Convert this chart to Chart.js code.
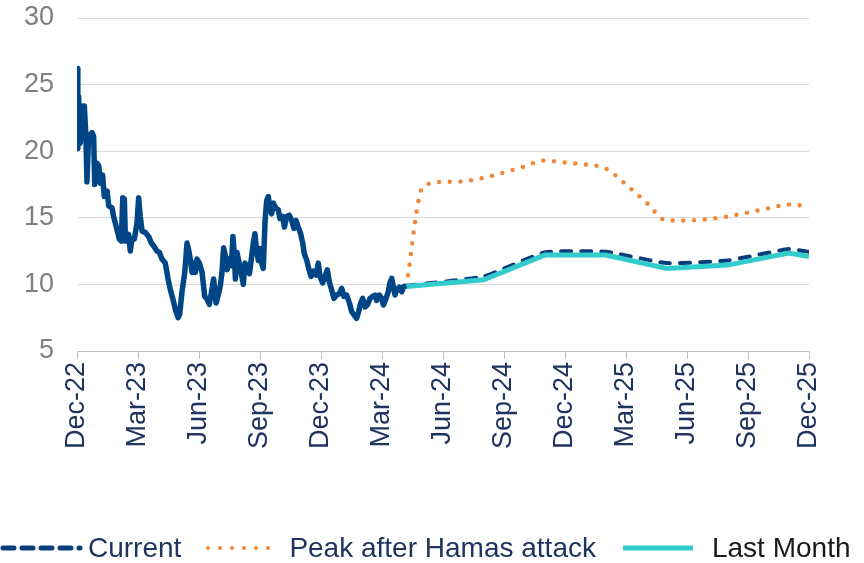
<!DOCTYPE html>
<html lang="en">

<head>
  <meta charset="UTF-8">
  <title>Volatility outlook</title>
  <script src="https://cdn.jsdelivr.net/npm/chart.js"></script>
  <style>
    body { margin: 0; background: #fff; font-family: Arial, "Liberation Sans", sans-serif; }
    #wrap { position: relative; width: 864px; height: 563px; }
    #legend {
      position: absolute; left: 0; top: 530px; height: 36px; line-height: 36px;
      display: flex; align-items: center; font-size: 28px; white-space: nowrap;
    }
    #legend svg { display: block; }
  </style>
</head>

<body>
  <div id="wrap">
    <canvas id="chart"></canvas>
    <div id="legend">
      <svg width="84" height="12"><line x1="3" y1="6" x2="80" y2="6" stroke="#0B3D7A" stroke-width="5" stroke-dasharray="11 8" stroke-linecap="round"/></svg>
      <span style="margin-left:4px;color:#1F3560">Current</span>
      <svg width="72" height="12" style="margin-left:24px"><line x1="3" y1="6" x2="70" y2="6" stroke="#F0883A" stroke-width="4" stroke-dasharray="0 12" stroke-linecap="round"/></svg>
      <span style="margin-left:12px;color:#1F3560">Peak after Hamas attack</span>
      <svg width="72" height="12" style="margin-left:26px"><line x1="1" y1="6" x2="71" y2="6" stroke="#33CCCC" stroke-width="5"/></svg>
      <span style="margin-left:18px;color:#1a1a1a">Last Month</span>
    </div>
  </div>

  <script>
    // x positions are months after Dec-22
    var tickLabels = ['Dec-22', 'Mar-23', 'Jun-23', 'Sep-23', 'Dec-23', 'Mar-24', 'Jun-24',
      'Sep-24', 'Dec-24', 'Mar-25', 'Jun-25', 'Sep-25', 'Dec-25'];

    var histMonths = [0, 0.04, 0.08, 0.16, 0.3, 0.36, 0.44, 0.49, 0.57, 0.74, 0.82, 0.87, 0.98, 1.07, 1.15,
      1.26, 1.34, 1.48, 1.56, 1.72, 1.8, 1.97, 2.08, 2.18, 2.25, 2.33, 2.38, 2.54, 2.62, 2.7, 2.82, 2.95,
      3.03, 3.11, 3.2, 3.36, 3.52, 3.66, 3.77, 3.93, 4.05, 4.18, 4.34, 4.48, 4.59, 4.7, 4.84, 4.97, 5.05,
      5.16, 5.3, 5.41, 5.49, 5.57, 5.66, 5.74, 5.82, 5.9, 6.02, 6.15, 6.28, 6.39, 6.51, 6.61, 6.72, 6.84,
      6.93, 7.05, 7.13, 7.21, 7.3, 7.38, 7.46, 7.59, 7.67, 7.74, 7.79, 7.87, 8.0, 8.11, 8.18,
      8.26, 8.38, 8.48, 8.59, 8.67, 8.75, 8.84, 8.92, 9.0, 9.08, 9.16, 9.25, 9.33, 9.41, 9.49, 9.57, 9.66,
      9.79, 9.9, 9.98, 10.11, 10.2, 10.31, 10.44, 10.56, 10.67, 10.77, 10.88, 11.0, 11.1, 11.18, 11.3,
      11.41, 11.51, 11.62, 11.75, 11.87, 11.95, 12.08, 12.2, 12.31, 12.41, 12.52, 12.64, 12.77, 12.9,
      13.02, 13.13, 13.26, 13.4, 13.51, 13.63, 13.75, 13.85, 13.95, 14.05, 14.17, 14.28, 14.41, 14.54,
      14.66, 14.74, 14.87, 14.98, 15.07, 15.2, 15.31, 15.39, 15.48, 15.56, 15.64, 15.72, 15.85, 15.97,
      16.05, 16.18];
    var histValues = [26.2, 20.2, 24.1, 20.6, 23.4, 23.4, 21.1, 17.7, 21.1, 21.4, 21.1, 17.5, 19.1, 18.9, 17.6,
      18.2, 16.6, 17.0, 15.9, 15.75, 15.1, 14.1, 13.4, 13.25, 16.5, 16.4, 13.25, 13.75, 12.5, 13.4, 13.4, 14.6,
      16.5, 15.1, 14.0, 13.9, 13.6, 13.1, 12.9, 12.5, 12.4, 11.9, 11.6, 10.4, 9.6, 9.0, 8.1, 7.5, 7.75,
      9.4, 10.9, 13.1, 12.6, 11.9, 10.9, 11.6, 10.9, 11.9, 11.6, 10.9, 9.1, 8.9, 8.5, 9.4, 10.4, 8.6,
      9.1, 9.9, 10.9, 12.75, 12.1, 11.1, 11.9, 11.4, 13.6, 12.1, 10.4, 12.4, 11.4, 10.6, 10.0,
      11.6, 11.3, 10.8, 12.1, 13.1, 13.8, 12.45, 11.8, 12.7, 11.6, 11.2, 14.8, 16.3, 16.6, 15.6, 15.3, 16.1,
      15.7, 15.6, 14.95, 15.1, 14.3, 15.1, 15.2, 14.8, 14.2, 14.8, 14.3, 13.8, 13.1, 12.3, 11.8,
      11.1, 10.6, 11.0, 10.7, 11.6, 10.6, 10.1, 10.6, 11.1, 10.2, 9.6, 8.95, 9.2, 9.3,
      9.7, 9.1, 9.2, 8.6, 7.95, 7.7, 7.45, 7.95, 8.6, 8.95, 8.3, 8.45, 8.95, 9.1,
      9.2, 8.8, 9.2, 8.95, 8.45, 8.95, 9.45, 10.1, 10.45, 9.8, 9.2, 9.6, 9.8, 9.45,
      9.8, 9.9];

    var currentMonths = [16.2, 20, 23, 26, 29, 32, 35, 36];
    var currentValues = [9.9, 10.6, 12.4, 12.45, 11.6, 11.8, 12.65, 12.45];

    var lastMonthMonths = [16.2, 20, 23, 26, 29, 32, 35, 36];
    var lastMonthValues = [9.85, 10.35, 12.2, 12.2, 11.2, 11.45, 12.35, 12.1];

    var peakMonths = [16.2, 17, 18, 19, 20, 21, 22, 23, 24, 25, 26, 27, 28, 29, 30, 31, 32, 33, 34, 35, 36];
    var peakValues = [9.9, 17.3, 17.7, 17.75, 18.0, 18.4, 18.85, 19.3, 19.15, 19.0, 18.7, 17.5, 16.15, 14.8,
      14.8, 14.9, 15.1, 15.4, 15.7, 16.0, 15.85];

    function pairs(xs, ys) {
      return xs.map(function (x, i) { return { x: x, y: ys[i] }; });
    }

    var font = 'Arial, "Liberation Sans", sans-serif';

    var ctx = document.getElementById('chart').getContext('2d');
    var chart = new Chart(ctx, {
      type: 'line',
      data: {
        datasets: [{
          label: 'History',
          data: pairs(histMonths, histValues),
          borderColor: '#004585',
          borderWidth: 5.5,
          borderJoinStyle: 'round',
          pointRadius: 0,
          tension: 0,
          order: 1
        }, {
          label: 'Current',
          data: pairs(currentMonths, currentValues),
          borderColor: '#0B3D7A',
          borderWidth: 4,
          borderDash: [10, 10],
          borderCapStyle: 'round',
          pointRadius: 0,
          tension: 0.15,
          order: 3
        }, {
          label: 'Peak after Hamas attack',
          data: pairs(peakMonths, peakValues),
          borderColor: '#F0883A',
          borderWidth: 4.5,
          borderDash: [0, 10.7],
          borderCapStyle: 'round',
          pointRadius: 0,
          cubicInterpolationMode: 'monotone',
          order: 4
        }, {
          label: 'Last Month',
          data: pairs(lastMonthMonths, lastMonthValues),
          borderColor: '#33CCCC',
          borderWidth: 5,
          pointRadius: 0,
          tension: 0,
          order: 2
        }]
      },
      options: {
        responsive: true,
        maintainAspectRatio: false,
        animation: false,
        layout: { padding: { top: 18, right: 55, bottom: 0, left: 0 } },
        plugins: {
          legend: { display: false },
          tooltip: { enabled: false }
        },
        scales: {
          x: {
            type: 'linear',
            min: 0,
            max: 36,
            afterFit: function (s) { s.height = 212; },
            afterBuildTicks: function (s) {
              s.ticks = tickLabels.map(function (t, i) { return { value: i * 3 }; });
            },
            grid: { drawOnChartArea: false, drawTicks: true, tickLength: 8, color: '#BFBFBF' },
            border: { display: true, color: '#BFBFBF' },
            ticks: {
              autoSkip: false,
              minRotation: 90,
              maxRotation: 90,
              padding: 3,
              color: '#1F3560',
              font: { family: font, size: 27 },
              callback: function (v) { return tickLabels[Math.round(v / 3)]; }
            }
          },
          y: {
            min: 5,
            max: 30,
            afterFit: function (s) {
              s.width = 77;
              s.paddingTop = 0;
              s.paddingBottom = 0;
            },
            grid: { color: '#D9D9D9', drawTicks: false },
            border: { display: false },
            ticks: {
              stepSize: 5,
              padding: 23,
              color: '#7F7F7F',
              font: { family: font, size: 27 }
            }
          }
        }
      }
    });
  </script>
</body>

</html>
